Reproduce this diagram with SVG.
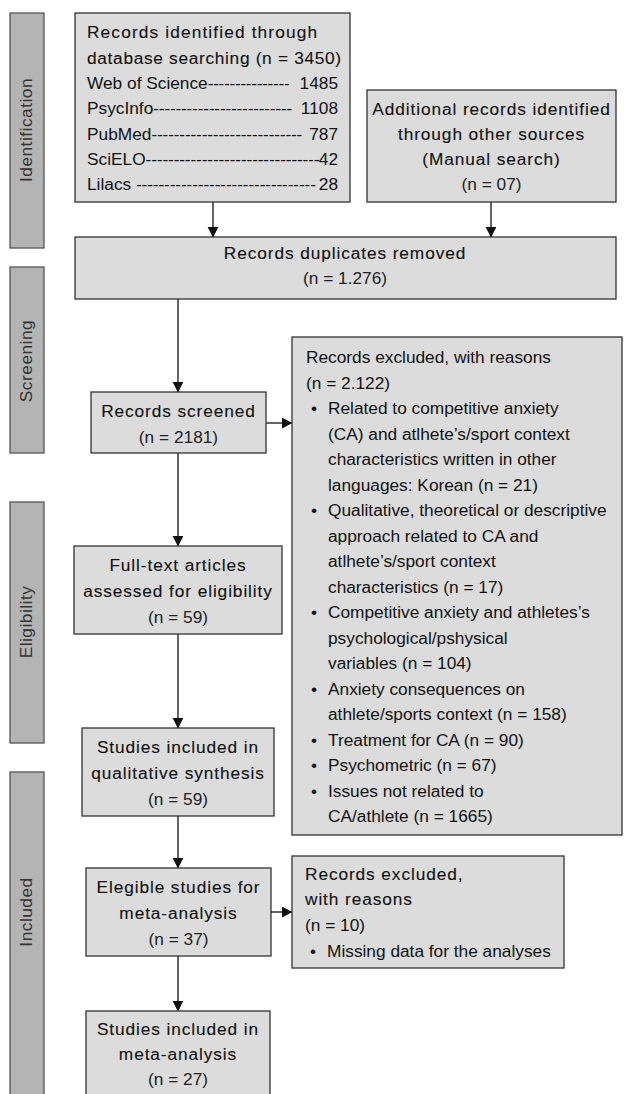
<svg xmlns="http://www.w3.org/2000/svg" width="624" height="1094" viewBox="0 0 624 1094">
<style>
text{font-family:"Liberation Sans",Arial,sans-serif;font-size:17.3px;fill:#111}
.t{letter-spacing:0.9px;stroke:#111;stroke-width:0.12px}
.c{text-anchor:middle}
.n{fill:#222}
.box{fill:#dcdcdc;stroke:#333;stroke-width:1.3}
.phase{fill:#b4b4b4;stroke:#555;stroke-width:1.3}
.pl{fill:#333;letter-spacing:0.5px;text-anchor:middle}
.conn{stroke:#222;stroke-width:1.4;fill:none;marker-end:url(#ah)}
</style>
<defs>
<marker id="ah" markerUnits="userSpaceOnUse" markerWidth="11" markerHeight="11" refX="10" refY="5.4" orient="auto">
<path d="M0,0 L10.5,5.4 L0,10.8 Z" fill="#111"/>
</marker>
</defs>
<rect width="624" height="1094" fill="#fff"/>

<g id="phase-identification">
<rect class="phase" x="10" y="13" width="34" height="235"/>
<text class="pl" transform="translate(32,130) rotate(-90)">Identification</text>
</g>
<g id="phase-screening">
<rect class="phase" x="10" y="267" width="34" height="186"/>
<text class="pl" transform="translate(32,361) rotate(-90)">Screening</text>
</g>
<g id="phase-eligibility">
<rect class="phase" x="10" y="502" width="34" height="241"/>
<text class="pl" transform="translate(32,622) rotate(-90)">Eligibility</text>
</g>
<g id="phase-included">
<rect class="phase" x="10" y="772" width="34" height="340"/>
<text class="pl" transform="translate(32,912) rotate(-90)">Included</text>
</g>

<g id="connectors">
<line class="conn" x1="213" y1="202" x2="213" y2="237"/>
<line class="conn" x1="491" y1="202" x2="491" y2="237"/>
<line class="conn" x1="178" y1="299" x2="178" y2="392"/>
<line class="conn" x1="266" y1="423" x2="292" y2="423"/>
<line class="conn" x1="178" y1="453" x2="178" y2="546"/>
<line class="conn" x1="178" y1="634" x2="178" y2="728"/>
<line class="conn" x1="178" y1="816" x2="178" y2="868"/>
<line class="conn" x1="271" y1="912" x2="292" y2="912"/>
<line class="conn" x1="178" y1="956" x2="178" y2="1011"/>
</g>

<g id="records-identified">
<rect class="box" x="75" y="13" width="275" height="189"/>
<text class="t" x="87" y="38" textLength="231" lengthAdjust="spacing">Records identified through</text>
<text class="t" x="87" y="63.5" textLength="255" lengthAdjust="spacing">database searching (n = 3450)</text>
<text y="89"><tspan x="87">Web of Science</tspan><tspan textLength="82" lengthAdjust="spacing">---------------</tspan><tspan x="338" text-anchor="end"> 1485</tspan></text>
<text y="114.3"><tspan x="87">PsycInfo</tspan><tspan textLength="139" lengthAdjust="spacing">-------------------------</tspan><tspan x="338" text-anchor="end"> 1108</tspan></text>
<text y="139.6"><tspan x="87">PubMed</tspan><tspan textLength="151" lengthAdjust="spacing">---------------------------</tspan><tspan x="338" text-anchor="end">787</tspan></text>
<text y="165"><tspan x="87">SciELO</tspan><tspan textLength="174" lengthAdjust="spacing">-------------------------------</tspan><tspan x="338" text-anchor="end">42</tspan></text>
<text y="190"><tspan x="87">Lilacs </tspan><tspan textLength="180" lengthAdjust="spacing">--------------------------------</tspan><tspan x="338" text-anchor="end">28</tspan></text>
</g>

<g id="additional-records">
<rect class="box" x="367" y="90" width="249" height="112"/>
<text class="t c" x="491.5" y="115">Additional records identified</text>
<text class="t c" x="491.5" y="140">through other sources</text>
<text class="t c" x="491.5" y="165">(Manual search)</text>
<text class="c n" x="491.5" y="190">(n = 07)</text>
</g>

<g id="duplicates-removed">
<rect class="box" x="75" y="237" width="541" height="62"/>
<text class="t c" x="345" y="259">Records duplicates removed</text>
<text class="c n" x="345" y="284">(n = 1.276)</text>
</g>

<g id="records-screened">
<rect class="box" x="91" y="392" width="175" height="61"/>
<text class="t c" x="178.5" y="417">Records screened</text>
<text class="c n" x="178.5" y="443">(n = 2181)</text>
</g>

<g id="records-excluded">
<rect class="box" x="292" y="337" width="330" height="498"/>
<text x="306" y="363">Records excluded, with reasons</text>
<text x="306" y="388.5">(n = 2.122)</text>
<text x="311" y="414">•</text><text x="328" y="414">Related to competitive anxiety</text>
<text x="328" y="439.5">(CA) and atlhete’s/sport context</text>
<text x="328" y="465">characteristics written in other</text>
<text x="328" y="490.5">languages: Korean (n = 21)</text>
<text x="311" y="516">•</text><text x="328" y="516">Qualitative, theoretical or descriptive</text>
<text x="328" y="541.5">approach related to CA and</text>
<text x="328" y="567">atlhete’s/sport context</text>
<text x="328" y="592.5">characteristics (n = 17)</text>
<text x="311" y="618">•</text><text x="328" y="618">Competitive anxiety and athletes’s</text>
<text x="328" y="643.5">psychological/pshysical</text>
<text x="328" y="669">variables (n = 104)</text>
<text x="311" y="694.5">•</text><text x="328" y="694.5">Anxiety consequences on</text>
<text x="328" y="720">athlete/sports context (n = 158)</text>
<text x="311" y="745.5">•</text><text x="328" y="745.5">Treatment for CA (n = 90)</text>
<text x="311" y="771">•</text><text x="328" y="771">Psychometric (n = 67)</text>
<text x="311" y="796.5">•</text><text x="328" y="796.5">Issues not related to</text>
<text x="328" y="822">CA/athlete (n = 1665)</text>
</g>

<g id="full-text">
<rect class="box" x="74" y="546" width="208" height="88"/>
<text class="t c" x="178" y="571">Full-text articles</text>
<text class="t c" x="178" y="597">assessed for eligibility</text>
<text class="c n" x="178" y="623">(n = 59)</text>
</g>

<g id="qualitative">
<rect class="box" x="82" y="728" width="192" height="88"/>
<text class="t c" x="178" y="753">Studies included in</text>
<text class="t c" x="178" y="779">qualitative synthesis</text>
<text class="c n" x="178" y="805">(n = 59)</text>
</g>

<g id="elegible">
<rect class="box" x="86" y="868" width="185" height="88"/>
<text class="t c" x="178.5" y="893">Elegible studies for</text>
<text class="t c" x="178.5" y="919">meta-analysis</text>
<text class="c n" x="178.5" y="945">(n = 37)</text>
</g>

<g id="excluded-meta">
<rect class="box" x="292" y="856" width="272" height="112"/>
<text class="t" x="305" y="880">Records excluded,</text>
<text class="t" x="305" y="905">with reasons</text>
<text x="305" y="931">(n = 10)</text>
<text x="310" y="957">•</text><text x="327" y="957">Missing data for the analyses</text>
</g>

<g id="meta-analysis">
<rect class="box" x="86" y="1011" width="184" height="100"/>
<text class="t c" x="178" y="1035">Studies included in</text>
<text class="t c" x="178" y="1060">meta-analysis</text>
<text class="c n" x="178" y="1085">(n = 27)</text>
</g>
</svg>
